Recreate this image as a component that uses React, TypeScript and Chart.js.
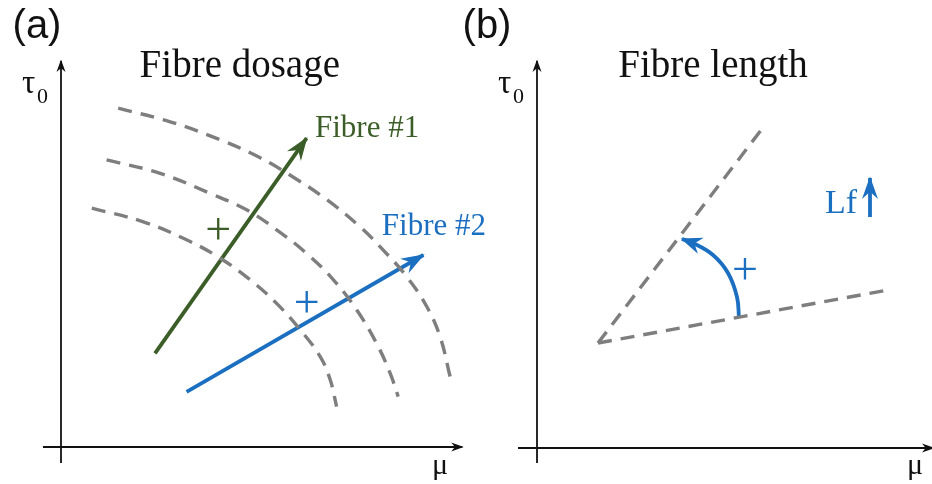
import { useEffect, useRef } from "react";
import { Chart, registerables } from "chart.js";

Chart.register(...registerables);

const SERIF = '"Liberation Serif", "Times New Roman", serif';
const SANS = '"Liberation Sans", Arial, sans-serif';
const GREEN = "#3b5d27";
const BLUE = "#1b6fc0";
const GREY = "#7e7e7e";
const INK = "#111111";

// ---- Panel (a): fibre dosage, iso-curves in the (μ, τ0) plane ----
const arcOuterMu = [1.43, 2.73, 3.98, 4.98, 5.8, 6.65, 7.48, 8.05, 8.65, 9.15, 9.48, 9.73];
const arcOuterTau = [8.47, 8.13, 7.68, 7.23, 6.75, 6.18, 5.5, 4.93, 4.25, 3.5, 2.75, 1.75];
const arcMiddleMu = [1.14, 2.48, 3.73, 4.64, 5.39, 6.14, 6.81, 7.39, 7.89, 8.23, 8.43];
const arcMiddleTau = [7.18, 6.84, 6.34, 5.93, 5.43, 4.84, 4.18, 3.43, 2.59, 1.84, 1.26];
const arcInnerMu = [0.77, 2.06, 3.14, 3.98, 4.73, 5.39, 5.98, 6.48, 6.73, 6.89];
const arcInnerTau = [5.97, 5.63, 5.18, 4.72, 4.18, 3.59, 2.93, 2.26, 1.68, 1.01];
const fibre1Mu = [2.35, 6.14];
const fibre1Tau = [2.34, 7.72];
const fibre2Mu = [3.14, 9.06];
const fibre2Tau = [1.38, 4.8];
const axisAMu = [-0.45, 10.03];
const axisATau = [-0.4, 9.65];

// ---- Panel (b): fibre length, rotation of the yield line ----
const lineUpperMu = [1.525, 5.7];
const lineUpperTau = [2.625, 8.075];
const lineLowerMu = [1.525, 8.775];
const lineLowerTau = [2.625, 3.95];
const rotationMu = [5.05, 5.0, 4.775, 4.4, 3.9, 3.625];
const rotationTau = [3.25, 3.775, 4.375, 4.825, 5.125, 5.225];
const lfArrowMu = [8.325, 8.325];
const lfArrowTau = [5.775, 6.75];
const axisBMu = [-0.475, 9.9];
const axisBTau = [-0.375, 9.675];

type Label = {
  text: string;
  x: number;
  y: number;
  size: number;
  color: string;
  family: string;
  align?: CanvasTextAlign;
};

const pts = (xs: number[], ys: number[]) => xs.map((x, i) => ({ x, y: ys[i] }));

function series(xs: number[], ys: number[], color: string, width: number, extra: any = {}) {
  return {
    data: pts(xs, ys),
    showLine: true,
    borderColor: color,
    backgroundColor: color,
    borderWidth: width,
    pointRadius: 0,
    pointHoverRadius: 0,
    borderCapStyle: "butt",
    clip: false,
    ...extra,
  };
}

const dashed = (xs: number[], ys: number[], curved: boolean) =>
  series(xs, ys, GREY, 3.4, { borderDash: [14, 9], tension: curved ? 0.4 : 0 });

const arrow = (
  xs: number[],
  ys: number[],
  color: string,
  width: number,
  head: [number, number],
  curved = false
) => series(xs, ys, color, width, { head, tension: curved ? 0.4 : 0 });

function horizontalAxis(xs: number[]) {
  return arrow(xs, [0, 0], INK, 1.8, [11, 9]);
}
function verticalAxis(ys: number[]) {
  return arrow([0, 0], ys, INK, 1.8, [11, 9]);
}

// Barbed arrowheads at the last point of datasets that carry a `head` size
const arrowHeads = {
  id: "arrowHeads",
  afterDatasetsDraw(chart: any) {
    const ctx: CanvasRenderingContext2D = chart.ctx;
    chart.data.datasets.forEach((ds: any, i: number) => {
      if (!ds.head) return;
      const pts = chart.getDatasetMeta(i).data;
      if (pts.length < 2) return;
      const tip = pts[pts.length - 1];
      const prev = pts[pts.length - 2];
      const ang = Math.atan2(tip.y - prev.y, tip.x - prev.x);
      const [len, wid] = ds.head;
      ctx.save();
      ctx.translate(tip.x, tip.y);
      ctx.rotate(ang);
      ctx.beginPath();
      ctx.moveTo(1.5, 0);
      ctx.lineTo(-len, -wid / 2);
      ctx.lineTo(-len * 0.66, 0);
      ctx.lineTo(-len, wid / 2);
      ctx.closePath();
      ctx.fillStyle = ds.borderColor;
      ctx.fill();
      ctx.restore();
    });
  },
};

// Text annotations placed in data units
const textLabels = {
  id: "textLabels",
  afterDraw(chart: any, _args: any, opts: any) {
    const ctx: CanvasRenderingContext2D = chart.ctx;
    const xs = chart.scales.x;
    const ys = chart.scales.y;
    (opts.items as Label[]).forEach((l) => {
      ctx.save();
      ctx.font = `${l.size}px ${l.family}`;
      ctx.fillStyle = l.color;
      ctx.textAlign = l.align ?? "left";
      ctx.textBaseline = "alphabetic";
      ctx.fillText(l.text, xs.getPixelForValue(l.x), ys.getPixelForValue(l.y));
      ctx.restore();
    });
  },
};

const labelsA: Label[] = [
  { text: "(a)", x: -0.6, y: 10.23, size: 40, color: INK, family: SANS, align: "center" },
  { text: "Fibre dosage", x: 4.47, y: 9.25, size: 39, color: INK, family: SERIF, align: "center" },
  { text: "τ", x: -0.975, y: 8.85, size: 33, color: INK, family: SERIF },
  { text: "0", x: -0.6, y: 8.6, size: 22, color: INK, family: SERIF },
  { text: "μ", x: 9.275, y: -0.675, size: 30, color: INK, family: SERIF },
  { text: "Fibre #1", x: 6.35, y: 7.76, size: 31, color: GREEN, family: SERIF },
  { text: "Fibre #2", x: 8.02, y: 5.3, size: 31, color: BLUE, family: SERIF },
  { text: "+", x: 3.93, y: 5.085, size: 46, color: GREEN, family: SERIF, align: "center" },
  { text: "+", x: 6.14, y: 3.26, size: 46, color: BLUE, family: SERIF, align: "center" },
];

const labelsB: Label[] = [
  { text: "(b)", x: -1.25, y: 10.255, size: 40, color: INK, family: SANS, align: "center" },
  { text: "Fibre length", x: 4.4, y: 9.275, size: 39, color: INK, family: SERIF, align: "center" },
  { text: "τ", x: -0.975, y: 8.875, size: 33, color: INK, family: SERIF },
  { text: "0", x: -0.6, y: 8.625, size: 22, color: INK, family: SERIF },
  { text: "μ", x: 9.25, y: -0.65, size: 30, color: INK, family: SERIF },
  { text: "+", x: 5.2, y: 4.11, size: 46, color: BLUE, family: SERIF, align: "center" },
  { text: "Lf", x: 7.2, y: 5.875, size: 34, color: BLUE, family: SERIF },
];

const datasetsA = [
  horizontalAxis(axisAMu),
  verticalAxis(axisATau),
  dashed(arcOuterMu, arcOuterTau, true),
  dashed(arcMiddleMu, arcMiddleTau, true),
  dashed(arcInnerMu, arcInnerTau, true),
  arrow(fibre1Mu, fibre1Tau, GREEN, 3.8, [22, 17]),
  arrow(fibre2Mu, fibre2Tau, BLUE, 3.8, [22, 17]),
];

const datasetsB = [
  horizontalAxis(axisBMu),
  verticalAxis(axisBTau),
  dashed(lineUpperMu, lineUpperTau, false),
  dashed(lineLowerMu, lineLowerTau, false),
  arrow(rotationMu, rotationTau, BLUE, 3.8, [20, 17], true),
  arrow(lfArrowMu, lfArrowTau, BLUE, 3.8, [21, 16]),
];

type PanelProps = {
  left: number;
  width: number;
  xRange: [number, number];
  yRange: [number, number];
  datasets: any[];
  labels: Label[];
};

function Panel({ left, width, xRange, yRange, datasets, labels }: PanelProps) {
  const ref = useRef<HTMLCanvasElement>(null);
  useEffect(() => {
    if (!ref.current) return;
    const chart = new Chart(ref.current, {
      type: "scatter",
      data: { datasets },
      options: {
        responsive: false,
        animation: false,
        events: [],
        layout: { padding: 0 },
        plugins: {
          legend: { display: false },
          tooltip: { enabled: false },
          title: { display: false },
          textLabels: { items: labels },
        } as any,
        scales: {
          x: { type: "linear", min: xRange[0], max: xRange[1], display: false },
          y: { type: "linear", min: yRange[0], max: yRange[1], display: false },
        },
      },
      plugins: [arrowHeads, textLabels],
    } as any);
    return () => chart.destroy();
  }, []);
  return (
    <canvas
      ref={ref}
      width={width}
      height={484}
      style={{ position: "absolute", left, top: 0, width, height: 484 }}
    />
  );
}

export default function App() {
  return (
    <div
      style={{
        position: "absolute",
        left: 0,
        top: 0,
        width: 932,
        height: 484,
        background: "#ffffff",
        overflow: "hidden",
      }}
    >
      <Panel
        left={0}
        width={520}
        xRange={[-1.525, 11.475]}
        yRange={[-0.925, 11.175]}
        datasets={datasetsA}
        labels={labelsA}
      />
      <Panel
        left={440}
        width={492}
        xRange={[-2.425, 9.875]}
        yRange={[-0.9, 11.2]}
        datasets={datasetsB}
        labels={labelsB}
      />
    </div>
  );
}
